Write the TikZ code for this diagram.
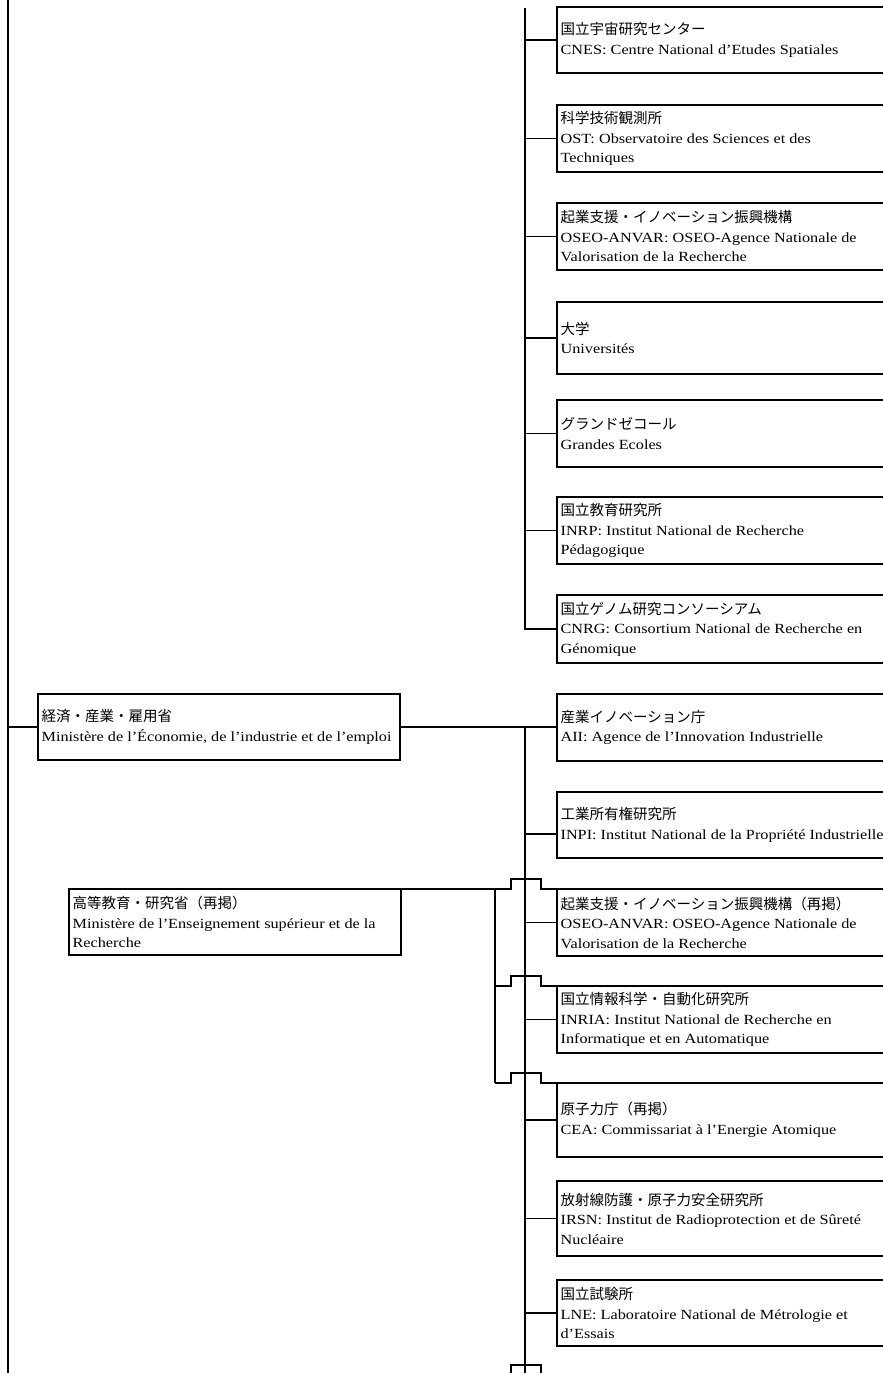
\documentclass[tikz,border=0pt]{standalone}
\usepackage{fontspec}
\setmainfont[FakeStretch=1.16]{Liberation Serif}
\newfontfamily\jpfont{Noto Sans CJK JP}
\newcommand\jtext[1]{{\jpfont\fontsize{14.5}{19.5}\selectfont #1}}
\begin{document}
\begin{tikzpicture}[x=1pt,y=-1pt,line width=1.2pt,
  orgbox/.style={draw,line width=2.9pt,anchor=north west,inner sep=0pt,outer sep=0pt},
  lbl/.style={anchor=west,align=left,inner sep=0pt,xshift=3pt,font=\fontsize{14}{19.5}\selectfont}]
\useasboundingbox (0,0) rectangle (883,1373);
\clip (0,0) rectangle (883,1373);

% right column boxes
\node[orgbox,minimum width=345pt,minimum height=66pt] (b1) at (557,7) {};
\node[orgbox,minimum width=345pt,minimum height=67pt] (b2) at (557,105) {};
\node[orgbox,minimum width=345pt,minimum height=67pt] (b3) at (557,203) {};
\node[orgbox,minimum width=345pt,minimum height=72pt] (b4) at (557,302) {};
\node[orgbox,minimum width=345pt,minimum height=67pt] (b5) at (557,400) {};
\node[orgbox,minimum width=345pt,minimum height=67pt] (b6) at (557,497) {};
\node[orgbox,minimum width=345pt,minimum height=68pt] (b7) at (557,595) {};
\node[orgbox,minimum width=345pt,minimum height=67pt] (b8) at (557,694) {};
\node[orgbox,minimum width=345pt,minimum height=66pt] (b9) at (557,792) {};
\node[orgbox,minimum width=345pt,minimum height=67pt] (b10) at (557,889) {};
\node[orgbox,minimum width=345pt,minimum height=67pt] (b11) at (557,986) {};
\node[orgbox,minimum width=345pt,minimum height=74pt] (b12) at (557,1083) {};
\node[orgbox,minimum width=345pt,minimum height=75pt] (b13) at (557,1181) {};
\node[orgbox,minimum width=345pt,minimum height=66pt] (b14) at (557,1280) {};

\node[lbl] (t1) at (b1.west) {\jtext{国立宇宙研究センター}\\CNES: Centre National d’Etudes Spatiales};
\node[lbl] (t2) at (b2.west) {\jtext{科学技術観測所}\\OST: Observatoire des Sciences et des\\Techniques};
\node[lbl] (t3) at (b3.west) {\jtext{起業支援・イノベーション振興機構}\\OSEO-ANVAR: OSEO-Agence Nationale de\\Valorisation de la Recherche};
\node[lbl] (t4) at (b4.west) {\jtext{大学}\\Universités};
\node[lbl] (t5) at (b5.west) {\jtext{グランドゼコール}\\Grandes Ecoles};
\node[lbl] (t6) at (b6.west) {\jtext{国立教育研究所}\\INRP: Institut National de Recherche\\Pédagogique};
\node[lbl] (t7) at (b7.west) {\jtext{国立ゲノム研究コンソーシアム}\\CNRG: Consortium National de Recherche en\\Génomique};
\node[lbl] (t8) at (b8.west) {\jtext{産業イノベーション庁}\\AII: Agence de l’Innovation Industrielle};
\node[lbl] (t9) at (b9.west) {\jtext{工業所有権研究所}\\INPI: Institut National de la Propriété Industrielle};
\node[lbl] (t10) at (b10.west) {\jtext{起業支援・イノベーション振興機構（再掲）}\\OSEO-ANVAR: OSEO-Agence Nationale de\\Valorisation de la Recherche};
\node[lbl] (t11) at (b11.west) {\jtext{国立情報科学・自動化研究所}\\INRIA: Institut National de Recherche en\\Informatique et en Automatique};
\node[lbl] (t12) at (b12.west) {\jtext{原子力庁（再掲）}\\CEA: Commissariat à l’Energie Atomique};
\node[lbl] (t13) at (b13.west) {\jtext{放射線防護・原子力安全研究所}\\IRSN: Institut de Radioprotection et de Sûreté\\Nucléaire};
\node[lbl] (t14) at (b14.west) {\jtext{国立試験所}\\LNE: Laboratoire National de Métrologie et\\d’Essais};

% left boxes
\node[orgbox,minimum width=362pt,minimum height=66pt] (eco) at (38,694) {};
\node[lbl] (ecot) at (eco.west) {\jtext{経済・産業・雇用省}\\Ministère de l’Économie, de l’industrie et de l’emploi};
\node[orgbox,minimum width=332pt,minimum height=66pt] (mext) at (69,889) {};
\node[lbl] (mextt) at (mext.west) {\jtext{高等教育・研究省（再掲）}\\Ministère de l’Enseignement supérieur et de la\\Recherche};

% left trunk
\coordinate (L0) at (8,0);
\coordinate (L1) at (8,1373);
\draw (L0) -- (L1);
\draw (L0 |- eco.west) -- (eco.west);

% first group
\coordinate (g1) at (525,8);
\draw (g1) |- (b7.west);
\foreach \i in {1,...,6} {\draw (g1 |- b\i.west) -- (b\i.west);}

% second group
\draw (eco.east) -- (eco.east -| b8.west);
\coordinate (g2) at (525,727);
\coordinate (g2b) at (525,1373);
\draw (g2) -- (g2b);
\draw ([yshift=-9pt]b9.west -| g2) -- ([yshift=-9pt]b9.west);
\foreach \i in {10,...,14} {\draw (g2 |- b\i.west) -- (b\i.west);}

% ministry of higher education links with hops
\draw (mext.north east) -- ++(110,0) -- ++(0,-10) -- ++(30,0) -- ++(0,10) -- (b10.north west);
\coordinate (br) at (495,889);
\draw (br) -- (br |- b12.north west);
\draw (br |- b11.north west) -- ++(16,0) -- ++(0,-10) -- ++(30,0) -- ++(0,10) -- (b11.north west);
\draw (br |- b12.north west) -- ++(16,0) -- ++(0,-10) -- ++(30,0) -- ++(0,10) -- (b12.north west);

% hop at bottom edge
\coordinate (h1) at (511,1375);
\draw (h1) -- ++(0,-10) -- ++(30,0) -- ++(0,10);
\end{tikzpicture}
\end{document}
